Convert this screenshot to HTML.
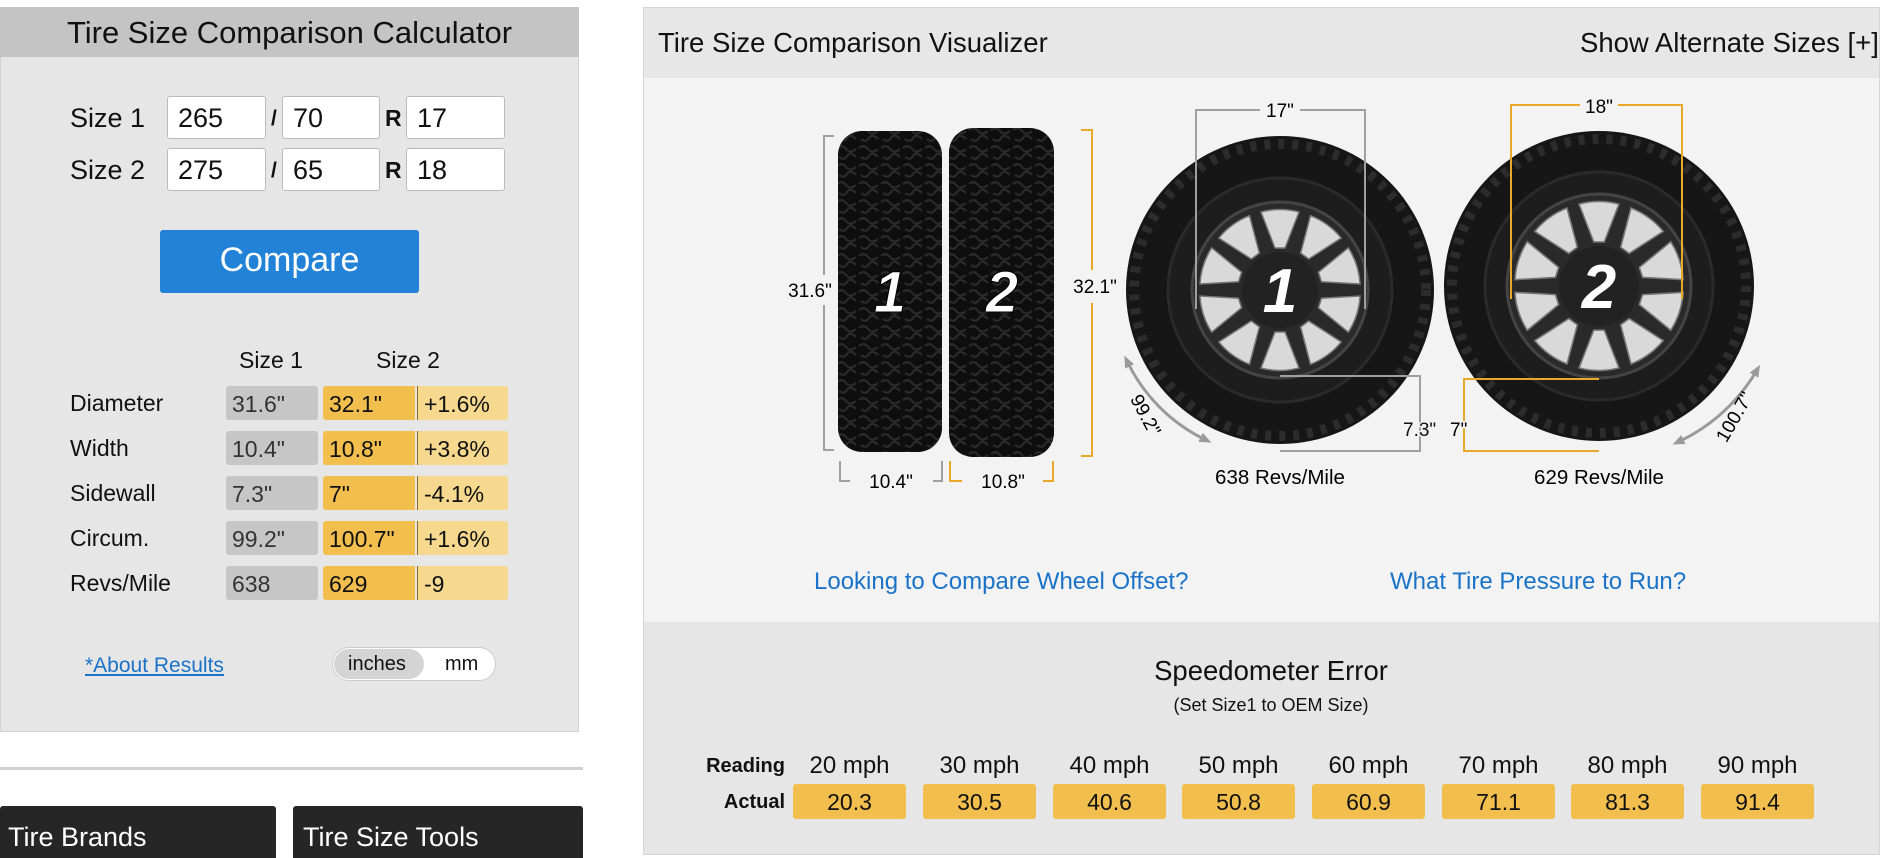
<!DOCTYPE html>
<html><head><meta charset="utf-8"><style>
*{margin:0;padding:0;box-sizing:border-box}
body{width:1900px;height:858px;background:#fff;font-family:"Liberation Sans",Arial,sans-serif;position:relative;overflow:hidden;color:#111}
.a{position:absolute}
.inp{position:absolute;background:#fff;border:1px solid #bbb;border-radius:3px;height:43px;font-size:27px;padding:6px 0 0 10px}
.lbl{position:absolute;font-size:27px}
.cell{position:absolute;height:34px;font-size:23px;padding:5px 0 0 6px;border-radius:3px}
.g{background:#c6c6c6;color:#333;width:92px;left:226px}
.o{background:#f2bf4f;width:92px;left:323px;border-radius:3px 0 0 3px}
.l{background:#f6d88f;width:91px;left:417px;border-left:1px solid #8a6a20;border-radius:0 3px 3px 0}
.rl{position:absolute;left:70px;font-size:23px}
.act{position:absolute;top:784px;width:113px;height:35px;background:#f2bf4f;border-radius:3px;font-size:23px;text-align:center;padding-top:5px}
.rd{position:absolute;top:752px;width:113px;text-align:center;font-size:24px}
</style></head><body>
<!-- left panel -->
<div class="a" style="left:0;top:7px;width:579px;height:725px;background:#e6e6e6;border:1px solid #d2d2d2"></div>
<div class="a" style="left:0;top:7px;width:579px;height:50px;background:#c4c4c4"></div>
<div class="a" style="left:0;top:15px;width:579px;text-align:center;font-size:31px">Tire Size Comparison Calculator</div>
<div class="lbl" style="left:70px;top:103px">Size 1</div>
<div class="lbl" style="left:70px;top:155px">Size 2</div>
<div class="inp" style="left:167px;top:96px;width:99px">265</div>
<div class="inp" style="left:282px;top:96px;width:98px">70</div>
<div class="inp" style="left:406px;top:96px;width:99px">17</div>
<div class="inp" style="left:167px;top:148px;width:99px">275</div>
<div class="inp" style="left:282px;top:148px;width:98px">65</div>
<div class="inp" style="left:406px;top:148px;width:99px">18</div>
<div class="a" style="left:271px;top:107px;font-size:21px;font-weight:bold">/</div>
<div class="a" style="left:271px;top:159px;font-size:21px;font-weight:bold">/</div>
<div class="a" style="left:385px;top:105px;font-size:23px;font-weight:bold">R</div>
<div class="a" style="left:385px;top:157px;font-size:23px;font-weight:bold">R</div>
<div class="a" style="left:160px;top:230px;width:259px;height:63px;background:#2282d8;border-radius:3px;color:#fff;font-size:34px;text-align:center;padding-top:11px">Compare</div>
<div class="a" style="left:239px;top:347px;font-size:23px">Size 1</div>
<div class="a" style="left:376px;top:347px;font-size:23px">Size 2</div>

<div class="rl" style="top:390px">Diameter</div>
<div class="cell g" style="top:386px">31.6"</div><div class="cell o" style="top:386px">32.1"</div><div class="cell l" style="top:386px">+1.6%</div>
<div class="rl" style="top:435px">Width</div>
<div class="cell g" style="top:431px">10.4"</div><div class="cell o" style="top:431px">10.8"</div><div class="cell l" style="top:431px">+3.8%</div>
<div class="rl" style="top:480px">Sidewall</div>
<div class="cell g" style="top:476px">7.3"</div><div class="cell o" style="top:476px">7"</div><div class="cell l" style="top:476px">-4.1%</div>
<div class="rl" style="top:525px">Circum.</div>
<div class="cell g" style="top:521px">99.2"</div><div class="cell o" style="top:521px">100.7"</div><div class="cell l" style="top:521px">+1.6%</div>
<div class="rl" style="top:570px">Revs/Mile</div>
<div class="cell g" style="top:566px">638</div><div class="cell o" style="top:566px">629</div><div class="cell l" style="top:566px">-9</div>

<div class="a" style="left:85px;top:654px;font-size:21px;color:#1a73c8;text-decoration:underline">*About Results</div>
<div class="a" style="left:332px;top:647px;width:164px;height:34px;background:#fff;border:1px solid #ccc;border-radius:17px"></div>
<div class="a" style="left:334px;top:649px;width:90px;height:30px;background:#d4d4d4;border-radius:15px"></div>
<div class="a" style="left:348px;top:653px;font-size:20px">inches</div>
<div class="a" style="left:445px;top:653px;font-size:20px">mm</div>

<div class="a" style="left:0;top:767px;width:583px;height:3px;background:#d0d0d0"></div>
<div class="a" style="left:0;top:806px;width:276px;height:52px;background:#262626;color:#fff;font-size:27px;padding:16px 0 0 8px;border-radius:3px 3px 0 0">Tire Brands</div>
<div class="a" style="left:293px;top:806px;width:290px;height:52px;background:#262626;color:#fff;font-size:27px;padding:16px 0 0 10px;border-radius:3px 3px 0 0">Tire Size Tools</div>

<!-- right panel -->
<div class="a" style="left:643px;top:7px;width:1237px;height:848px;background:#f3f3f3;border:1px solid #d6d6d6"></div>
<div class="a" style="left:644px;top:8px;width:1235px;height:70px;background:#e7e7e7"></div>
<div class="a" style="left:644px;top:622px;width:1235px;height:232px;background:#e6e6e6"></div>
<div class="a" style="left:658px;top:27px;font-size:27.5px">Tire Size Comparison Visualizer</div>
<div class="a" style="left:1580px;top:27px;font-size:27.5px">Show Alternate Sizes [+]</div>
<div class="a" style="left:814px;top:568px;font-size:24px;color:#1a73c8">Looking to Compare Wheel Offset?</div>
<div class="a" style="left:1390px;top:568px;font-size:24px;color:#1a73c8">What Tire Pressure to Run?</div>
<div class="a" style="left:1071px;top:655px;width:400px;text-align:center;font-size:27.5px">Speedometer Error</div>
<div class="a" style="left:1071px;top:695px;width:400px;text-align:center;font-size:18px">(Set Size1 to OEM Size)</div>
<div class="a" style="left:680px;top:755px;width:105px;text-align:right;font-size:20px;font-weight:bold">Reading</div>
<div class="a" style="left:680px;top:791px;width:105px;text-align:right;font-size:20px;font-weight:bold">Actual</div>
<div class="rd" style="left:793px">20 mph</div><div class="act" style="left:793px">20.3</div>
<div class="rd" style="left:923px">30 mph</div><div class="act" style="left:923px">30.5</div>
<div class="rd" style="left:1053px">40 mph</div><div class="act" style="left:1053px">40.6</div>
<div class="rd" style="left:1182px">50 mph</div><div class="act" style="left:1182px">50.8</div>
<div class="rd" style="left:1312px">60 mph</div><div class="act" style="left:1312px">60.9</div>
<div class="rd" style="left:1442px">70 mph</div><div class="act" style="left:1442px">71.1</div>
<div class="rd" style="left:1571px">80 mph</div><div class="act" style="left:1571px">81.3</div>
<div class="rd" style="left:1701px">90 mph</div><div class="act" style="left:1701px">91.4</div>

<svg class="a" style="left:0;top:0" width="1900" height="858" viewBox="0 0 1900 858" font-family="Liberation Sans, Arial, sans-serif">
<defs>
<pattern id="tr" width="22" height="18" patternUnits="userSpaceOnUse">
<rect width="22" height="18" fill="#0e0e0e"/>
<path d="M1,4 q5,-4 9,1 t10,0 M3,13 q5,4 8,-1 t9,1" stroke="#2a2a2a" stroke-width="2.2" fill="none"/>
</pattern>
<path id="wd" d="M-5,-42 L5,-42 L19,-78 Q0,-83 -19,-78 Z" fill="#d9d9d9" stroke="#777" stroke-width="1.5"/>
<marker id="ah" markerUnits="userSpaceOnUse" markerWidth="12" markerHeight="12" refX="6" refY="6" orient="auto-start-reverse"><path d="M0,1 L12,6 L0,11 z" fill="#9a9a9a"/></marker>
</defs>
<!-- side tires -->
<rect x="838" y="131" width="104" height="321" rx="24" fill="url(#tr)"/>
<rect x="949" y="128" width="105" height="329" rx="24" fill="url(#tr)"/>
<text x="890" y="312" font-size="58" font-weight="bold" font-style="italic" fill="#fff" text-anchor="middle" stroke="#000" stroke-width="1">1</text>
<text x="1002" y="312" font-size="58" font-weight="bold" font-style="italic" fill="#fff" text-anchor="middle" stroke="#000" stroke-width="1">2</text>
<!-- height dims -->
<path d="M834,136 H824 V275 M824,305 V450 H834" stroke="#a0a0a0" stroke-width="2" fill="none"/>
<text x="810" y="297" font-size="19" text-anchor="middle">31.6"</text>
<path d="M1081,130 H1092 V270 M1092,303 V456 H1081" stroke="#e8a92a" stroke-width="2" fill="none"/>
<text x="1095" y="293" font-size="19" text-anchor="middle">32.1"</text>
<path d="M840,461 V481 H850 M933,481 H942 V461" stroke="#a0a0a0" stroke-width="2" fill="none"/>
<text x="891" y="488" font-size="19" text-anchor="middle">10.4"</text>
<path d="M950,461 V481 H962 M1043,481 H1053 V461" stroke="#e8a92a" stroke-width="2" fill="none"/>
<text x="1003" y="488" font-size="19" text-anchor="middle">10.8"</text>
<!-- wheel 1 -->
<g transform="translate(1280,290)">
<circle r="154" fill="#161616"/>
<circle r="146" fill="none" stroke="#2c2c2c" stroke-width="10" stroke-dasharray="6 8"/>
<circle r="112" fill="#1d1d1d" stroke="#2a2a2a" stroke-width="3"/>
<circle r="88" fill="#2a2a2a" stroke="#444" stroke-width="3"/>
<use href="#wd"/><use href="#wd" transform="rotate(36)"/><use href="#wd" transform="rotate(72)"/><use href="#wd" transform="rotate(108)"/><use href="#wd" transform="rotate(144)"/><use href="#wd" transform="rotate(180)"/><use href="#wd" transform="rotate(216)"/><use href="#wd" transform="rotate(252)"/><use href="#wd" transform="rotate(288)"/><use href="#wd" transform="rotate(324)"/>
<circle r="38" fill="#222"/>
<text y="22" font-size="62" font-weight="bold" font-style="italic" fill="#fff" text-anchor="middle">1</text>
</g>
<!-- wheel 2 -->
<g transform="translate(1599,286)">
<circle r="155" fill="#161616"/>
<circle r="147" fill="none" stroke="#2c2c2c" stroke-width="10" stroke-dasharray="6 8"/>
<circle r="114" fill="#1d1d1d" stroke="#2a2a2a" stroke-width="3"/>
<circle r="92" fill="#2a2a2a" stroke="#444" stroke-width="3"/>
<g transform="scale(1.05)"><use href="#wd"/><use href="#wd" transform="rotate(36)"/><use href="#wd" transform="rotate(72)"/><use href="#wd" transform="rotate(108)"/><use href="#wd" transform="rotate(144)"/><use href="#wd" transform="rotate(180)"/><use href="#wd" transform="rotate(216)"/><use href="#wd" transform="rotate(252)"/><use href="#wd" transform="rotate(288)"/><use href="#wd" transform="rotate(324)"/></g>
<circle r="40" fill="#222"/>
<text y="22" font-size="62" font-weight="bold" font-style="italic" fill="#fff" text-anchor="middle">2</text>
</g>
<!-- rim dims -->
<path d="M1196,309 V110 H1260 M1300,110 H1365 V309" stroke="#a0a0a0" stroke-width="2" fill="none"/>
<text x="1280" y="117" font-size="19" text-anchor="middle">17"</text>
<path d="M1511,299 V105 H1580 M1618,105 H1682 V299" stroke="#e8a92a" stroke-width="2" fill="none"/>
<text x="1599" y="113" font-size="19" text-anchor="middle">18"</text>
<path d="M1280,376 H1420 V451 H1280" stroke="#a0a0a0" stroke-width="2" fill="none"/>
<text x="1403" y="436" font-size="19" fill="#111" style="paint-order:stroke" stroke="#f3f3f3" stroke-width="3">7.3"</text>
<path d="M1599,379 H1464 V451 H1599" stroke="#e8a92a" stroke-width="2" fill="none"/>
<text x="1450" y="436" font-size="19" style="paint-order:stroke" stroke="#f3f3f3" stroke-width="3">7"</text>
<!-- arcs -->
<path d="M1127,361 A168,168 0 0 0 1206,440" stroke="#9a9a9a" stroke-width="3" fill="none" marker-start="url(#ah)" marker-end="url(#ah)"/>
<text transform="translate(1140,418) rotate(62)" font-size="19" text-anchor="middle">99.2"</text>
<path d="M1757,370 A178,178 0 0 1 1678,442" stroke="#9a9a9a" stroke-width="3" fill="none" marker-start="url(#ah)" marker-end="url(#ah)"/>
<text transform="translate(1740,420) rotate(-60)" font-size="19" text-anchor="middle">100.7"</text>
<text x="1280" y="484" font-size="20.5" text-anchor="middle">638 Revs/Mile</text>
<text x="1599" y="484" font-size="20.5" text-anchor="middle">629 Revs/Mile</text>
</svg>
</body></html>
